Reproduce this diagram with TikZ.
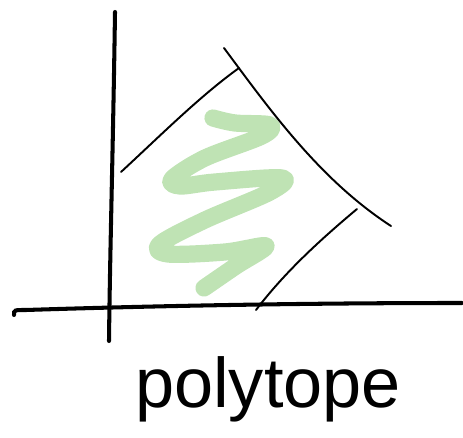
\documentclass[tikz,border=0pt]{standalone}
\usepackage{fontspec}
\usepackage{xcolor}
\usepackage{tikz}
\newfontfamily\sketchfont{Liberation Sans}
\definecolor{sketchgreen}{RGB}{191,227,180}

\begin{document}
\begin{tikzpicture}[
  x=0.02cm, y=-0.02cm,
  axis/.style  ={line width=2.3pt, line cap=round, black},
  facet/.style ={line width=1.1pt, line cap=round, black},
  region/.style={line width=9.8pt, line cap=round, line join=round, sketchgreen},
  lbl/.style   ={font=\sketchfont\fontsize{40}{44}\selectfont, inner sep=0pt}
]
\useasboundingbox (0,0) rectangle (463,438);

%% ── feasible region (green scribble) ────────────────────────────────
\draw[region] plot[smooth, tension=0.55] coordinates {
  (213,118) (235,123) (270,125) (262,136) (205,158) (172,179)
  (180,186) (215,182) (282,178) (270,192) (205,220) (160,244)
  (168,254) (225,252) (266,246) (236,266) (204,288)};

%% ── axes ─────────────────────────────────────────────────────────────
\coordinate (ytop) at (115,12);
\coordinate (ybot) at (109,341);
\coordinate (xleft) at (14,315);
\coordinate (xright) at (462,303);

\draw[axis] (ytop) .. controls (113,150) and (110,250) .. (ybot);
\draw[axis] (xleft) .. controls (14,310) .. (26,310)
    .. controls (150,306) and (300,303) .. (xright);

%% ── polytope facets ─────────────────────────────────────────────────
\draw[facet] (121,172) .. controls (160,136) and (200,96) .. (239,68);
\draw[facet] (224,48) .. controls (270,110) and (320,180) .. (391,226);
\draw[facet] (357,209) .. controls (320,240) and (285,272) .. (256,310);

%% ── label ────────────────────────────────────────────────────────────
\node[lbl, anchor=base] (title) at (268,408) {polytope};

\end{tikzpicture}
\end{document}
